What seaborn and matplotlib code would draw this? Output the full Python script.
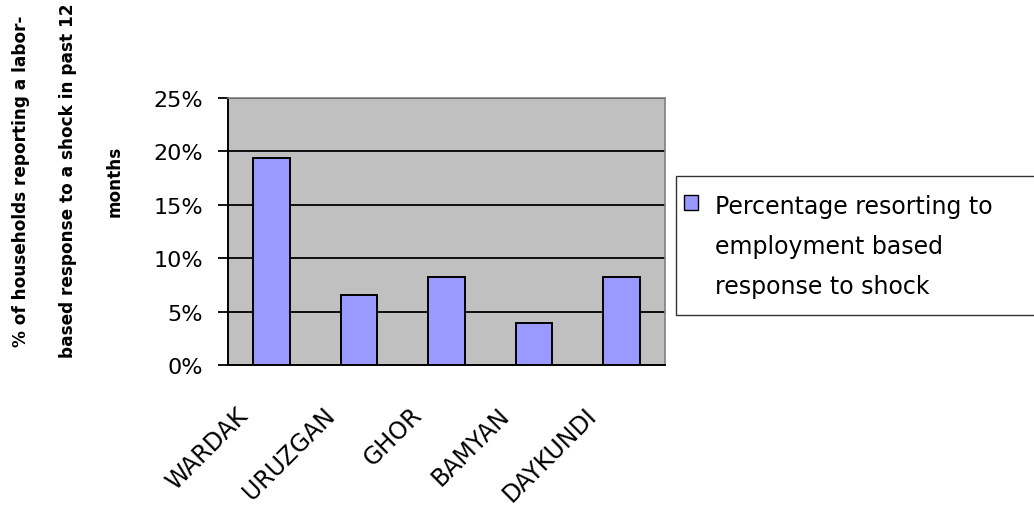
"""Labor-based response to shock, by province."""
import numpy as np
import pandas as pd
import seaborn as sns
import matplotlib
matplotlib.use("Agg")
import matplotlib.pyplot as plt
from matplotlib.ticker import PercentFormatter, FixedLocator
from matplotlib.transforms import ScaledTranslation
from matplotlib.legend_handler import HandlerPatch
from matplotlib.patches import Patch, Rectangle

provinces = ["WARDAK", "URUZGAN", "GHOR", "BAMYAN", "DAYKUNDI"]
share = [0.194, 0.066, 0.082, 0.039, 0.082]
series_name = "Percentage resorting to\nemployment based\nresponse to shock"
y_ticks = [0.0, 0.05, 0.10, 0.15, 0.20, 0.25]
y_title = "% of households reporting a labor-\nbased response to a shock in past 12\nmonths"

df = pd.DataFrame({"province": provinces, "share": share, "series": series_name})

sns.set_style("white")
plt.rcParams["font.family"] = ["DejaVu Sans"]
for key in ["text.color", "axes.labelcolor", "xtick.color", "ytick.color"]:
    plt.rcParams[key] = "black"

fig = plt.figure(figsize=(10.34, 5.10), dpi=100)
ax = fig.add_axes([228 / 1034, 1 - 366 / 510, (665 - 228) / 1034, (366 - 99) / 510])

sns.barplot(data=df, x="province", y="share", hue="series",
            palette=["#9999FF"], saturation=1, edgecolor="black", linewidth=1.4,
            width=0.42, ax=ax, legend=True)

ax.set_facecolor("#C0C0C0")
ax.set_xlim(-0.5, len(provinces) - 0.5)
ax.set_ylim(0, 0.25)
ax.set_yticks(y_ticks)
ax.yaxis.set_major_formatter(PercentFormatter(xmax=1, decimals=0))
ax.grid(axis="y", color="black", linewidth=1.3)
ax.set_axisbelow(True)

for side in ["top", "right"]:
    ax.spines[side].set_color("#808080")
    ax.spines[side].set_linewidth(1.2)
for side in ["left", "bottom"]:
    ax.spines[side].set_color("black")
    ax.spines[side].set_linewidth(1.4)

# Excel style: ticks sit between the categories
ax.xaxis.set_minor_locator(FixedLocator(np.arange(-0.5, len(provinces), 1.0)))
ax.tick_params(axis="x", which="major", length=0, pad=33, labelsize=17)
ax.tick_params(axis="x", which="minor", length=7, direction="out", color="black", width=1.3)
ax.tick_params(axis="y", length=7, direction="out", color="black", width=1.3,
               labelsize=16, pad=11, left=True)
shift = ScaledTranslation(-28 / 100, 0, fig.dpi_scale_trans)
for lbl in ax.get_xticklabels():
    lbl.set_rotation(45)
    lbl.set_ha("right")
    lbl.set_va("center")
    lbl.set_rotation_mode("anchor")
    lbl.set_transform(lbl.get_transform() + shift)

ax.set_xlabel("")
ax.set_ylabel("")
fig.text(68 / 1034, 1 - 181 / 510, y_title,
         rotation=90, ha="center", va="center", fontsize=12.2, fontweight="bold",
         linespacing=3.05)

leg_size = 17
leg_spacing = 1.84
line_step = leg_size * leg_spacing * 0.92


def top_square(legend, orig_handle, xdescent, ydescent, width, height, fontsize):
    # swatch beside the first line of the label, nudged toward the frame
    return Rectangle((-xdescent - 7, -ydescent + line_step + 3), width, height)


leg = ax.legend(loc="upper left",
                bbox_to_anchor=(676 / 1034, 1 - 314 / 510, 370 / 1034, 137 / 510),
                bbox_transform=fig.transFigure, mode="expand", frameon=True,
                fancybox=False, fontsize=leg_size, handlelength=0.6, handleheight=0.6,
                handletextpad=0.3, borderpad=0.75, borderaxespad=0,
                handler_map={Patch: HandlerPatch(patch_func=top_square)})
leg.get_frame().set_edgecolor("black")
leg.get_frame().set_linewidth(1.0)
for t in leg.get_texts():
    t.set_linespacing(leg_spacing)
for h in leg.get_patches():
    h.set_edgecolor("black")
    h.set_linewidth(1.0)

fig.savefig("out.png", dpi=100)
